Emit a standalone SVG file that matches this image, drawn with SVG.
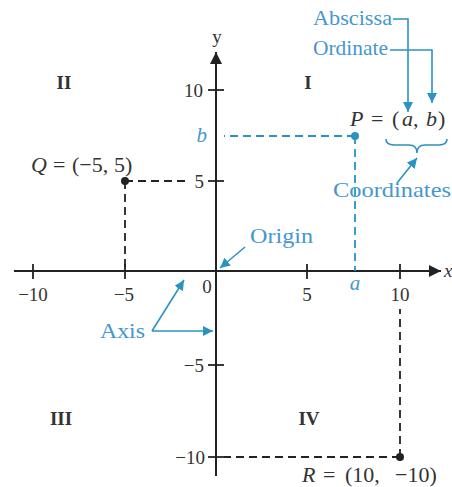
<svg xmlns="http://www.w3.org/2000/svg" width="452" height="487" viewBox="0 0 452 487">
<defs>
<style>
.t{font-family:"Liberation Serif","Times New Roman",serif;font-size:19px;fill:#333}
.m{font-family:"Liberation Serif","Times New Roman",serif;font-size:22px;fill:#333}
.it{font-style:italic}
.b{font-weight:bold}
.bl{font-family:"Liberation Serif","Times New Roman",serif;font-size:21px;fill:#4597cf}
.ax{stroke:#222;stroke-width:2;fill:none}
.tk{stroke:#222;stroke-width:1.8}
.dk{stroke:#222;stroke-width:1.8;stroke-dasharray:8 5;fill:none}
.db{stroke:#2a93c2;stroke-width:1.8;stroke-dasharray:8 5;fill:none}
.cl{stroke:#2a93c2;stroke-width:1.6;fill:none}
</style>
<marker id="ab" viewBox="0 0 10 10" refX="10" refY="5" markerWidth="10" markerHeight="10" markerUnits="userSpaceOnUse" orient="auto">
<path d="M0,0 L10,5 L0,10 z" fill="#2a93c2"/>
</marker>
<marker id="ak" viewBox="0 0 10 10" refX="10" refY="5" markerWidth="14" markerHeight="12" markerUnits="userSpaceOnUse" orient="auto">
<path d="M0,0 L10,5 L0,10 z" fill="#222"/>
</marker>
</defs>
<rect width="452" height="487" fill="#fff"/>

<g id="axes">
<line class="ax" x1="14" y1="271" x2="441" y2="271" marker-end="url(#ak)"/>
<line class="ax" x1="216" y1="476" x2="216" y2="52" marker-end="url(#ak)"/>
<g id="ticks">
<line class="tk" x1="33" y1="264" x2="33" y2="279"/>
<line class="tk" x1="125" y1="264" x2="125" y2="279"/>
<line class="tk" x1="307" y1="264" x2="307" y2="279"/>
<line class="tk" x1="400" y1="264" x2="400" y2="279"/>
<line class="tk" x1="208" y1="90" x2="224" y2="90"/>
<line class="tk" x1="208" y1="181" x2="224" y2="181"/>
<line class="tk" x1="208" y1="365" x2="224" y2="365"/>
<line class="tk" x1="208" y1="457" x2="224" y2="457"/>
</g>
<text class="t" x="217" y="43" text-anchor="middle">y</text>
<text class="t it" x="444" y="277">x</text>
<text class="t" x="203" y="97" text-anchor="end">10</text>
<text class="t" x="204" y="188" text-anchor="end">5</text>
<text class="t" x="204" y="372" text-anchor="end">−5</text>
<text class="t" x="205" y="464" text-anchor="end">−10</text>
<text class="t" x="33" y="301" text-anchor="middle">−10</text>
<text class="t" x="124" y="301" text-anchor="middle">−5</text>
<text class="t" x="207" y="293" text-anchor="middle">0</text>
<text class="t" x="307" y="301" text-anchor="middle">5</text>
<text class="t" x="400" y="301" text-anchor="middle">10</text>
</g>

<g id="quadrants">
<text class="t b" x="64" y="89" text-anchor="middle">II</text>
<text class="t b" x="308" y="89" text-anchor="middle">I</text>
<text class="t b" x="61" y="425" text-anchor="middle">III</text>
<text class="t b" x="309" y="425" text-anchor="middle">IV</text>
</g>

<g id="connectors">
<path class="dk" d="M125,181 H187 M125,181 V271"/>
<path class="dk" d="M400,457 H224 M400,457 V309"/>
<path class="db" d="M355,136 H224 M355,136 V271"/>
<path class="cl" d="M393,19 H408 V112" marker-end="url(#ab)"/>
<path class="cl" d="M390,50 H432 V103" marker-end="url(#ab)"/>
<path class="cl" d="M397,183 L417,158" marker-end="url(#ab)"/>
<path class="cl" d="M245,247 L220,268" marker-end="url(#ab)"/>
<path class="cl" d="M152,331 L184,280" marker-end="url(#ab)"/>
<path class="cl" d="M152,331 H213" marker-end="url(#ab)"/>
<path class="cl" d="M386,139 q0,6 8,6 h15 q8,0 8,8 q0,-8 8,-8 h14 q8,0 8,-6"/>
</g>

<g id="Q">
<circle cx="125" cy="181" r="4" fill="#222"/>
<text class="m it" y="172"><tspan x="31">Q</tspan><tspan x="53" font-style="normal">=</tspan><tspan x="72" font-style="normal">(−5,</tspan><tspan x="114" font-style="normal">5)</tspan></text>
</g>
<g id="R">
<circle cx="400" cy="457" r="4" fill="#222"/>
<text class="m it" y="482"><tspan x="302">R</tspan><tspan x="323" font-style="normal">=</tspan><tspan x="345" font-style="normal">(10,</tspan><tspan x="395" font-style="normal">−10)</tspan></text>
</g>
<g id="P">
<circle cx="355" cy="136" r="4" fill="#2a93c2"/>
<text class="m it" y="126"><tspan x="350">P</tspan><tspan x="371" font-style="normal">=</tspan><tspan x="392" font-style="normal">(</tspan><tspan x="402">a</tspan><tspan x="413" font-style="normal">,</tspan><tspan x="426">b</tspan><tspan x="438" font-style="normal">)</tspan></text>
</g>

<g id="labels">
<text class="bl it" x="207" y="142" text-anchor="end">b</text>
<text class="bl it" x="355" y="290" text-anchor="middle">a</text>
<text class="bl" x="313" y="25" textLength="79" lengthAdjust="spacingAndGlyphs">Abscissa</text>
<text class="bl" x="313" y="55" textLength="75" lengthAdjust="spacingAndGlyphs">Ordinate</text>
<text class="bl" x="333" y="197" textLength="118" lengthAdjust="spacingAndGlyphs">Coordinates</text>
<text class="bl" x="250" y="243" textLength="63" lengthAdjust="spacingAndGlyphs">Origin</text>
<text class="bl" x="100" y="338" textLength="45" lengthAdjust="spacingAndGlyphs">Axis</text>
</g>
</svg>
